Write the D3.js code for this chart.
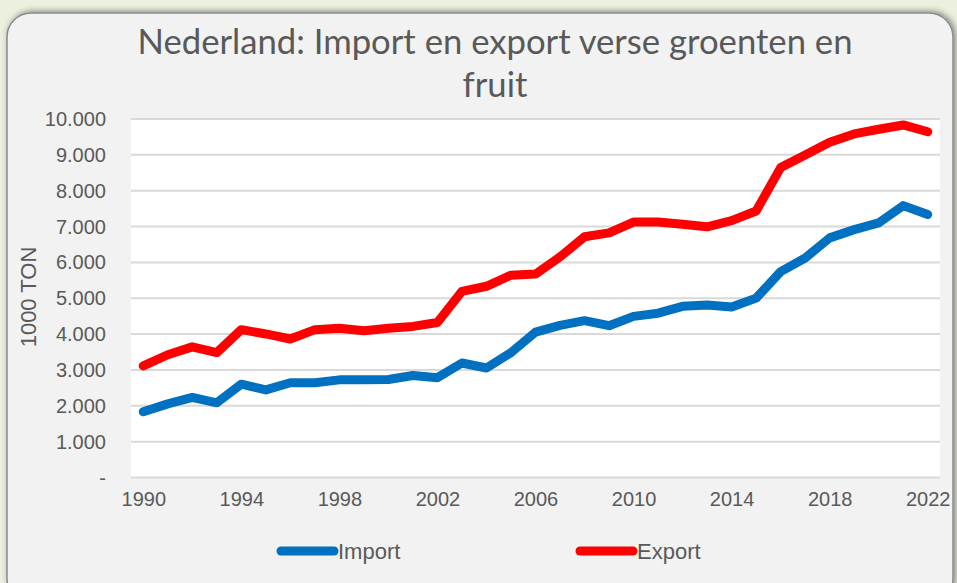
<!DOCTYPE html>
<html><head><meta charset="utf-8">
<script src="https://cdn.jsdelivr.net/npm/d3@7"></script>
<style>html,body{margin:0;padding:0;background:#ebf1de;}svg{display:block;}</style>
</head><body>
<svg id="c" width="957" height="583"></svg>
<script>
const years = d3.range(1990, 2023);
const importValues = [1820, 2040, 2220, 2070, 2590, 2430, 2630, 2630, 2710, 2710, 2720, 2830, 2770, 3180, 3040, 3470, 4040, 4230, 4360, 4220, 4480, 4570, 4760, 4800, 4740, 4990, 5730, 6110, 6670, 6900, 7090, 7570, 7320];
const exportValues = [3100, 3410, 3630, 3470, 4110, 3990, 3850, 4110, 4150, 4080, 4150, 4200, 4310, 5180, 5320, 5630, 5660, 6140, 6700, 6810, 7110, 7110, 7050, 6980, 7150, 7420, 8630, 8980, 9340, 9570, 9700, 9820, 9630];
const yTicks = [0, 1000, 2000, 3000, 4000, 5000, 6000, 7000, 8000, 9000, 10000];
const xTickYears = [1990, 1994, 1998, 2002, 2006, 2010, 2014, 2018, 2022];
const titleLines = ["Nederland: Import en export verse groenten en", "fruit"];
const yTitle = "1000 TON";
const seriesNames = ["Import", "Export"];
const seriesColors = ["#0070C0", "#FF0000"];

const svg = d3.select("#c");
const defs = svg.append("defs");
const f = defs.append("filter").attr("id","sh").attr("x","-5%").attr("y","-5%").attr("width","110%").attr("height","110%");
f.append("feGaussianBlur").attr("in","SourceAlpha").attr("stdDeviation",3).attr("result","b");
f.append("feOffset").attr("in","b").attr("dx",2).attr("dy",-1).attr("result","o");
f.append("feFlood").attr("flood-color","#000").attr("flood-opacity",0.45);
f.append("feComposite").attr("in2","o").attr("operator","in").attr("result","s");
const m = f.append("feMerge"); m.append("feMergeNode").attr("in","s"); m.append("feMergeNode").attr("in","SourceGraphic");

svg.append("rect").attr("x",7).attr("y",13).attr("width",946).attr("height",590).attr("rx",24)
  .attr("fill","#f2f2f2").attr("stroke","#8a8a8a").attr("stroke-width",1.5).attr("filter","url(#sh)");

const L = 131, R = 940, T = 118.5, B = 477;
svg.append("rect").attr("x",L).attr("y",T).attr("width",R-L).attr("height",B-T).attr("fill","#fff");

const x = d3.scalePoint().domain(years).range([L, R]).padding(0.5);
const y = d3.scaleLinear().domain([0, 10000]).range([B, T]);
const loc = d3.formatLocale({decimal: ",", thousands: ".", grouping: [3], currency: ["", ""]});
const fmt = v => v === 0 ? "-" : loc.format(",")(v);

const font = "'Liberation Sans', Arial, sans-serif";
const txt = "#595959";

const yAxis = d3.axisLeft(y).tickValues(yTicks).tickSize(-(R-L)).tickFormat(fmt).tickPadding(25);
const gy = svg.append("g").attr("transform", `translate(${L},0)`).call(yAxis);
gy.select(".domain").remove();
gy.selectAll(".tick line").attr("stroke","#d9d9d9").attr("stroke-width",2);
gy.selectAll(".tick text").attr("fill",txt).style("font-family",font).style("font-size","20px").attr("dy","0.35em");

const xAxis = d3.axisBottom(x).tickValues(xTickYears).tickSize(0).tickPadding(15);
const gx = svg.append("g").attr("transform", `translate(0,${B})`).call(xAxis);
gx.select(".domain").remove();
gx.selectAll(".tick text").attr("fill",txt).style("font-family",font).style("font-size","20px");

const line = d3.line().x((d,i)=>x(years[i])).y(d=>y(d));
[importValues, exportValues].forEach((vals, k) => {
  svg.append("path").datum(vals).attr("d", line).attr("fill","none")
    .attr("stroke", seriesColors[k]).attr("stroke-width", 9)
    .attr("stroke-linejoin","round").attr("stroke-linecap","round");
});

const tg = svg.append("g");
titleLines.forEach((t,i) => {
  tg.append("text").attr("x", 495).attr("y", 54 + i*43).attr("text-anchor","middle")
    .attr("fill", txt).style("font-family","Lato, 'Open Sans', sans-serif").style("font-size","32px").text(t);
});
const w0 = tg.select("text").node().getComputedTextLength();
tg.selectAll("text").style("font-size", (32*715/w0).toFixed(2)+"px");

svg.append("text").attr("transform","translate(36,297) rotate(-90)").attr("text-anchor","middle")
  .attr("fill",txt).style("font-family",font).style("font-size","22px").text(yTitle);

const legendX = [277, 576];
seriesNames.forEach((n,k) => {
  const g = svg.append("g");
  g.append("line").attr("x1",legendX[k]+4).attr("x2",legendX[k]+57).attr("y1",551).attr("y2",551)
    .attr("stroke",seriesColors[k]).attr("stroke-width",9).attr("stroke-linecap","round");
  g.append("text").attr("x",legendX[k]+61).attr("y",551).attr("dy","0.35em")
    .attr("fill",txt).style("font-family",font).style("font-size","22px").text(n);
});
</script>
</body></html>
